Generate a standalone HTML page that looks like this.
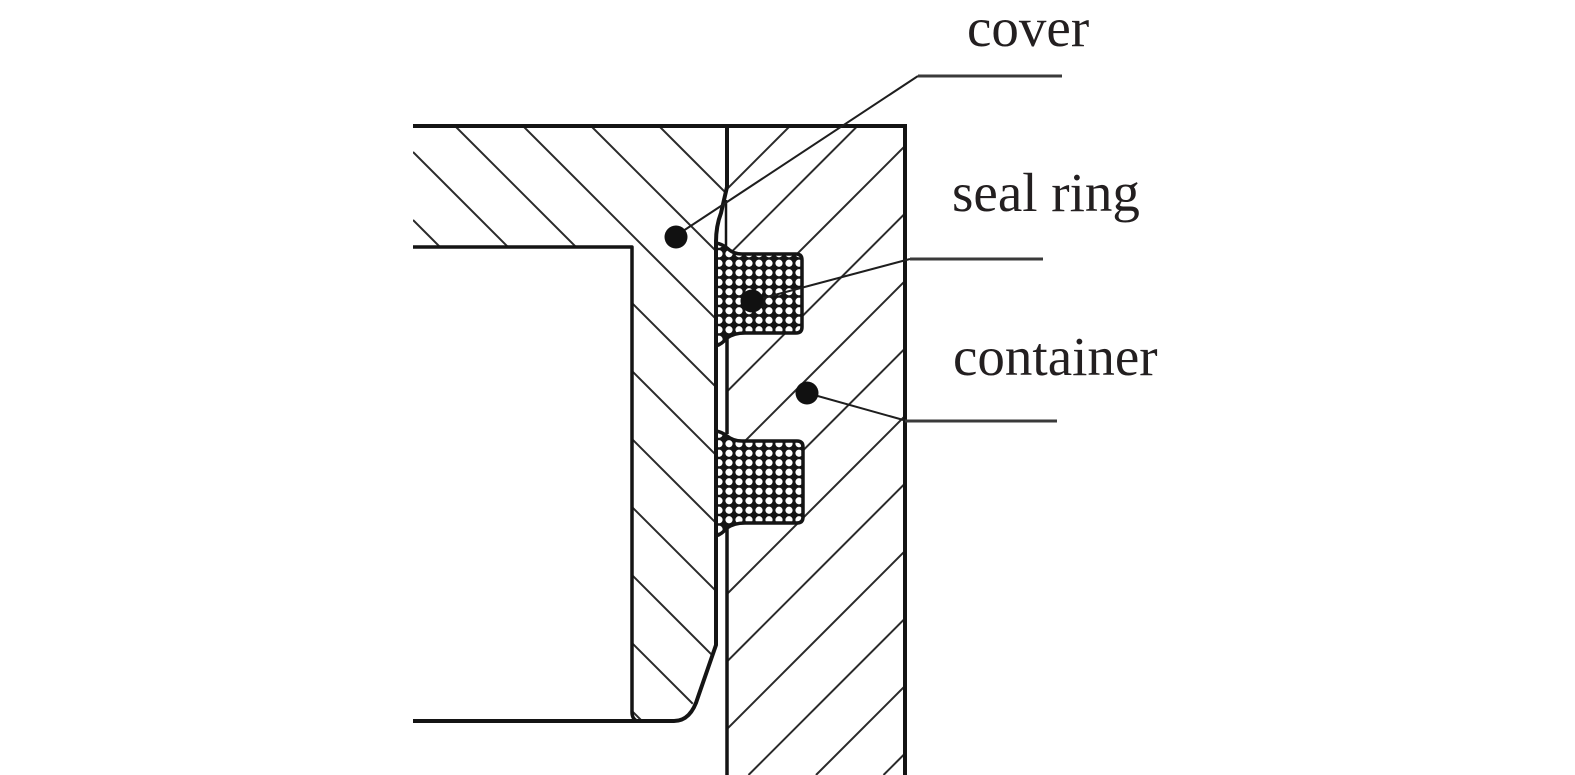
<!DOCTYPE html>
<html>
<head>
<meta charset="utf-8">
<style>
  html, body { margin: 0; padding: 0; background: #ffffff; width: 1575px; height: 775px; overflow: hidden; }
  svg { display: block; position: absolute; left: 0; top: 0; }
  text { font-family: "Liberation Serif", "Times New Roman", serif; font-size: 55px; fill: #231f20; }
</style>
</head>
<body>
<svg width="1575" height="775" viewBox="0 0 1575 775" xmlns="http://www.w3.org/2000/svg" overflow="hidden">
  <defs>
    <clipPath id="coverClip">
      <polygon points="413,126 727,126 727,187 721,213 716,240 716,645 698,698 677,721 632,721 632,247 413,247"/>
    </clipPath>
    <clipPath id="contClip">
      <rect x="727" y="126" width="178" height="649"/>
    </clipPath>
    <pattern id="dots" patternUnits="userSpaceOnUse" x="714" y="2" width="10" height="9.5">
      <rect x="0" y="0" width="10" height="9.5" fill="#141414"/>
      <circle cx="5" cy="4.75" r="3.6" fill="#fff"/>
    </pattern>
  </defs>

  <!-- cover hatching (\ direction) -->
  <g clip-path="url(#coverClip)" stroke="#2a2a2a" stroke-width="2" fill="none">
    <line x1="413" y1="560" x2="574" y2="721"/>
    <line x1="413" y1="492" x2="642" y2="721"/>
    <line x1="413" y1="424" x2="710" y2="721"/>
    <line x1="413" y1="356" x2="727" y2="670"/>
    <line x1="413" y1="288" x2="727" y2="602"/>
    <line x1="413" y1="220" x2="727" y2="534"/>
    <line x1="413" y1="152" x2="727" y2="466"/>
    <line x1="455" y1="126" x2="727" y2="398"/>
    <line x1="523" y1="126" x2="727" y2="330"/>
    <line x1="591" y1="126" x2="727" y2="262"/>
    <line x1="659" y1="126" x2="727" y2="194"/>
  </g>

  <!-- container hatching (/ direction) -->
  <g clip-path="url(#contClip)" stroke="#2a2a2a" stroke-width="2" fill="none">
    <line x1="727" y1="189" x2="790" y2="126"/>
    <line x1="727" y1="256.5" x2="857.5" y2="126"/>
    <line x1="727" y1="324" x2="905" y2="146"/>
    <line x1="727" y1="391.5" x2="905" y2="213.5"/>
    <line x1="727" y1="459" x2="905" y2="281"/>
    <line x1="727" y1="526.5" x2="905" y2="348.5"/>
    <line x1="727" y1="594" x2="905" y2="416"/>
    <line x1="727" y1="661.5" x2="905" y2="483.5"/>
    <line x1="727" y1="729" x2="905" y2="551"/>
    <line x1="748.5" y1="775" x2="905" y2="618.5"/>
    <line x1="816" y1="775" x2="905" y2="686"/>
    <line x1="883.5" y1="775" x2="905" y2="753.5"/>
  </g>

  <!-- outlines -->
  <g stroke="#141414" fill="none" stroke-linejoin="round" stroke-linecap="butt">
    <line x1="413" y1="126" x2="907" y2="126" stroke-width="4"/>
    <line x1="905" y1="124" x2="905" y2="775" stroke-width="4"/>
    <path d="M413,247 H632 V712 Q632,719 637,721" stroke-width="3.5"/>
    <path d="M727,126 V187 L721,213 Q716,226 716,242 V645 L698,697 Q691,721 674,721 H413" stroke-width="4"/>
    <line x1="726" y1="200" x2="726" y2="246" stroke-width="2.5"/>
    <line x1="727" y1="338" x2="727" y2="434" stroke-width="3.5"/>
    <line x1="727" y1="528" x2="727" y2="775" stroke-width="3.5"/>
  </g>

  <!-- seal rings -->
  <path d="M716,243 Q722,244 727,248 Q733,254 742,254 H796 Q802,254 802,260 V327 Q802,333 796,333 H745 Q734,333 727,338 Q722,344 716,346 Z"
        fill="url(#dots)" stroke="#141414" stroke-width="3.5" stroke-linejoin="round"/>
  <path d="M716,431 Q722,432 727,436 Q733,441 742,441 H797 Q803,441 803,447 V517 Q803,523 797,523 H745 Q734,523 727,528 Q722,534 716,536 Z"
        fill="url(#dots)" stroke="#141414" stroke-width="3.5" stroke-linejoin="round"/>
  <line x1="716" y1="240" x2="716" y2="540" stroke="#141414" stroke-width="4"/>

  <!-- leaders -->
  <g fill="none" stroke="#1e1e1e">
    <polyline points="680,233 918,76" stroke-width="2"/>
    <line x1="918" y1="76" x2="1062" y2="76" stroke-width="3" stroke="#3a3a3a"/>
    <polyline points="752,301 910,259" stroke-width="2"/>
    <line x1="910" y1="259" x2="1043" y2="259" stroke-width="3" stroke="#3a3a3a"/>
    <polyline points="807,393 907,421" stroke-width="2"/>
    <line x1="905" y1="421" x2="1057" y2="421" stroke-width="3" stroke="#3a3a3a"/>
  </g>

  <!-- dots -->
  <circle cx="676" cy="237" r="11.5" fill="#111"/>
  <circle cx="752" cy="301" r="11.5" fill="#111"/>
  <circle cx="807" cy="393" r="11.5" fill="#111"/>

  <!-- labels -->
  <text x="967" y="46">cover</text>
  <text x="952" y="211">seal ring</text>
  <text x="953" y="375">container</text>
</svg>
</body>
</html>
